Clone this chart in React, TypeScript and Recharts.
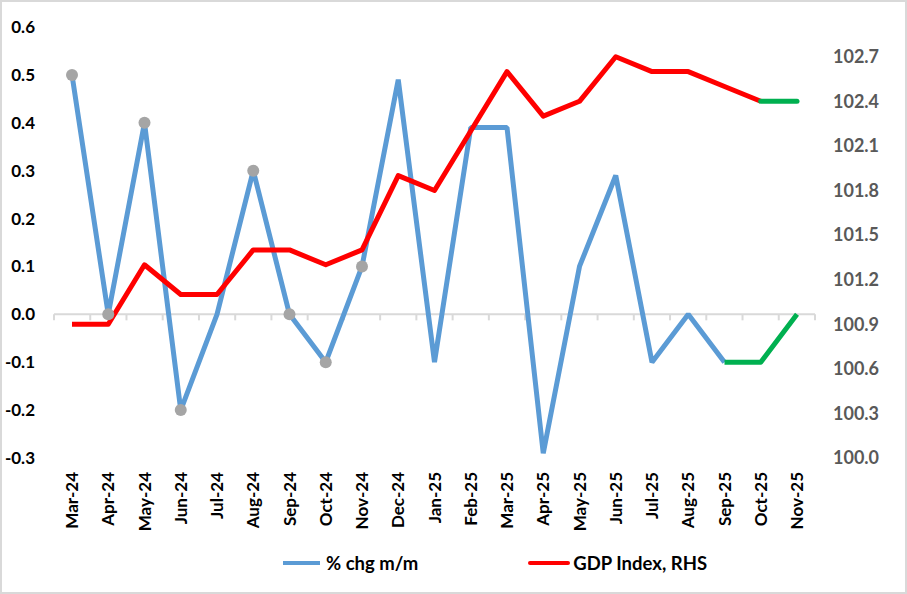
import React from "react";
import { LineChart, Line, XAxis, YAxis, ReferenceLine, Legend } from "recharts";

const MONTHS = [
  "Mar-24", "Apr-24", "May-24", "Jun-24", "Jul-24", "Aug-24", "Sep-24",
  "Oct-24", "Nov-24", "Dec-24", "Jan-25", "Feb-25", "Mar-25", "Apr-25",
  "May-25", "Jun-25", "Jul-25", "Aug-25", "Sep-25", "Oct-25", "Nov-25",
];

// % chg m/m (blue), latest months drawn in green
const PCT_CHG = [
  0.5, 0.0, 0.4, -0.2, 0.0, 0.3, 0.0, -0.1, 0.1, 0.49, -0.1, 0.39, 0.39,
  -0.29, 0.1, 0.29, -0.1, 0.0, -0.1, null, null,
];
const PCT_CHG_LATEST = [
  null, null, null, null, null, null, null, null, null, null, null, null,
  null, null, null, null, null, null, -0.1, -0.1, 0.0,
];
// grey markers: earlier estimates
const PCT_CHG_EARLIER = [
  0.5, 0.0, 0.4, -0.2, null, 0.3, 0.0, -0.1, 0.1, null, null, null, null,
  null, null, null, null, null, null, null, null,
];

// GDP index (red, RHS)
const GDP_INDEX = [
  100.9, 100.9, 101.3, 101.1, 101.1, 101.4, 101.4, 101.3, 101.4, 101.9,
  101.8, 102.2, 102.6, 102.3, 102.4, 102.7, 102.6, 102.6, 102.5, 102.4, null,
];
const GDP_INDEX_LATEST = [
  null, null, null, null, null, null, null, null, null, null, null, null,
  null, null, null, null, null, null, null, 102.4, 102.4,
];

const LEFT_TICKS = [-0.3, -0.2, -0.1, 0.0, 0.1, 0.2, 0.3, 0.4, 0.5, 0.6];
const RIGHT_TICKS = [100.0, 100.3, 100.6, 100.9, 101.2, 101.5, 101.8, 102.1, 102.4, 102.7];

const data = MONTHS.map((month, i) => ({
  month,
  pct: PCT_CHG[i],
  pctLatest: PCT_CHG_LATEST[i],
  pctEarlier: PCT_CHG_EARLIER[i],
  gdp: GDP_INDEX[i],
  gdpLatest: GDP_INDEX_LATEST[i],
}));

const FONT = "Lato, 'Open Sans', sans-serif";
const BLUE = "#5b9bd5";
const RED = "#ff0000";
const GREEN = "#00b050";

const MonthTick = (props: any) => {
  const { x, y, payload } = props;
  const ty = y + 6;
  return (
    <text
      x={x}
      y={ty}
      dy="0.36em"
      transform={`rotate(-90, ${x}, ${ty})`}
      textAnchor="end"
      fontFamily={FONT}
      fontWeight={700}
      fontSize={17}
      fill="#000"
    >
      {payload.value}
    </text>
  );
};

// zero line with small tick marks at the category boundaries
const ZeroAxis = (props: any) => {
  const { x1, x2, y1 } = props;
  const left = Math.min(x1, x2);
  const right = Math.max(x1, x2);
  const step = (right - left) / MONTHS.length;
  return (
    <g>
      <line x1={left} x2={right} y1={y1} y2={y1} stroke="#d9d9d9" strokeWidth={2} />
      {Array.from({ length: MONTHS.length + 1 }, (_, i) => (
        <line
          key={i}
          x1={left + i * step}
          x2={left + i * step}
          y1={y1}
          y2={y1 + 6}
          stroke="#d9d9d9"
          strokeWidth={2}
        />
      ))}
    </g>
  );
};

const LegendContent = () => (
  <div
    style={{
      display: "flex",
      alignItems: "center",
      height: 30,
      marginLeft: 283,
      fontFamily: FONT,
      fontWeight: 700,
      fontSize: 18.5,
      color: "#000",
    }}
  >
    <span style={{ width: 37, height: 4, background: BLUE, marginRight: 6 }} />
    <span>% chg m/m</span>
    <span style={{ width: 42, height: 4, background: RED, marginLeft: 110, marginRight: 3, borderRadius: 2 }} />
    <span>GDP Index, RHS</span>
  </div>
);

export default function App() {
  return (
    <div style={{ position: "absolute", left: 0, top: 0, width: 907, height: 594, background: "#fff" }}>
      <LineChart
        width={907}
        height={594}
        data={data}
        margin={{ top: 27, right: 0, bottom: 16, left: 0 }}
      >
        <XAxis
          dataKey="month"
          xAxisId={0}
          axisLine={false}
          tickLine={false}
          interval={0}
          height={90}
          padding={{ left: 18, right: 18 }}
          tick={<MonthTick />}
        />
        <YAxis
          yAxisId="left"
          width={54}
          domain={[-0.3, 0.6]}
          ticks={LEFT_TICKS}
          tickFormatter={(v: number) => v.toFixed(1)}
          axisLine={false}
          tickLine={false}
          tickMargin={13}
          tick={{ fontFamily: FONT, fontWeight: 700, fontSize: 17, fill: "#000" }}
        />
        <YAxis
          yAxisId="right"
          orientation="right"
          width={92}
          domain={[100.0, 102.9]}
          ticks={RIGHT_TICKS}
          tickFormatter={(v: number) => v.toFixed(1)}
          axisLine={false}
          tickLine={false}
          tickMargin={12}
          tick={{ fontFamily: FONT, fontWeight: 700, fontSize: 18, fill: "#595959" }}
        />
        <ReferenceLine y={0} yAxisId="left" shape={<ZeroAxis />} />
        <Legend verticalAlign="bottom" content={<LegendContent />} />
        <Line
          yAxisId="left"
          dataKey="pct"
          name="% chg m/m"
          stroke={BLUE}
          strokeWidth={5}
          strokeLinejoin="bevel"
          dot={false}
          isAnimationActive={false}
        />
        <Line
          yAxisId="left"
          dataKey="pctLatest"
          stroke={GREEN}
          strokeWidth={5}
          strokeLinejoin="round"
          dot={false}
          legendType="none"
          isAnimationActive={false}
        />
        <Line
          yAxisId="right"
          dataKey="gdp"
          name="GDP Index, RHS"
          stroke={RED}
          strokeWidth={5}
          strokeLinejoin="round"
          dot={false}
          isAnimationActive={false}
        />
        <Line
          yAxisId="right"
          dataKey="gdpLatest"
          stroke={GREEN}
          strokeWidth={5}
          strokeLinecap="round"
          dot={false}
          legendType="none"
          isAnimationActive={false}
        />
        <Line
          yAxisId="left"
          dataKey="pctEarlier"
          stroke="none"
          strokeWidth={0}
          dot={{ r: 6, fill: "#a5a5a5", stroke: "none" }}
          activeDot={false}
          legendType="none"
          isAnimationActive={false}
        />
      </LineChart>
      <div
        style={{
          position: "absolute",
          inset: 0,
          border: "2px solid #d9d9d9",
          boxSizing: "border-box",
          pointerEvents: "none",
        }}
      />
    </div>
  );
}
